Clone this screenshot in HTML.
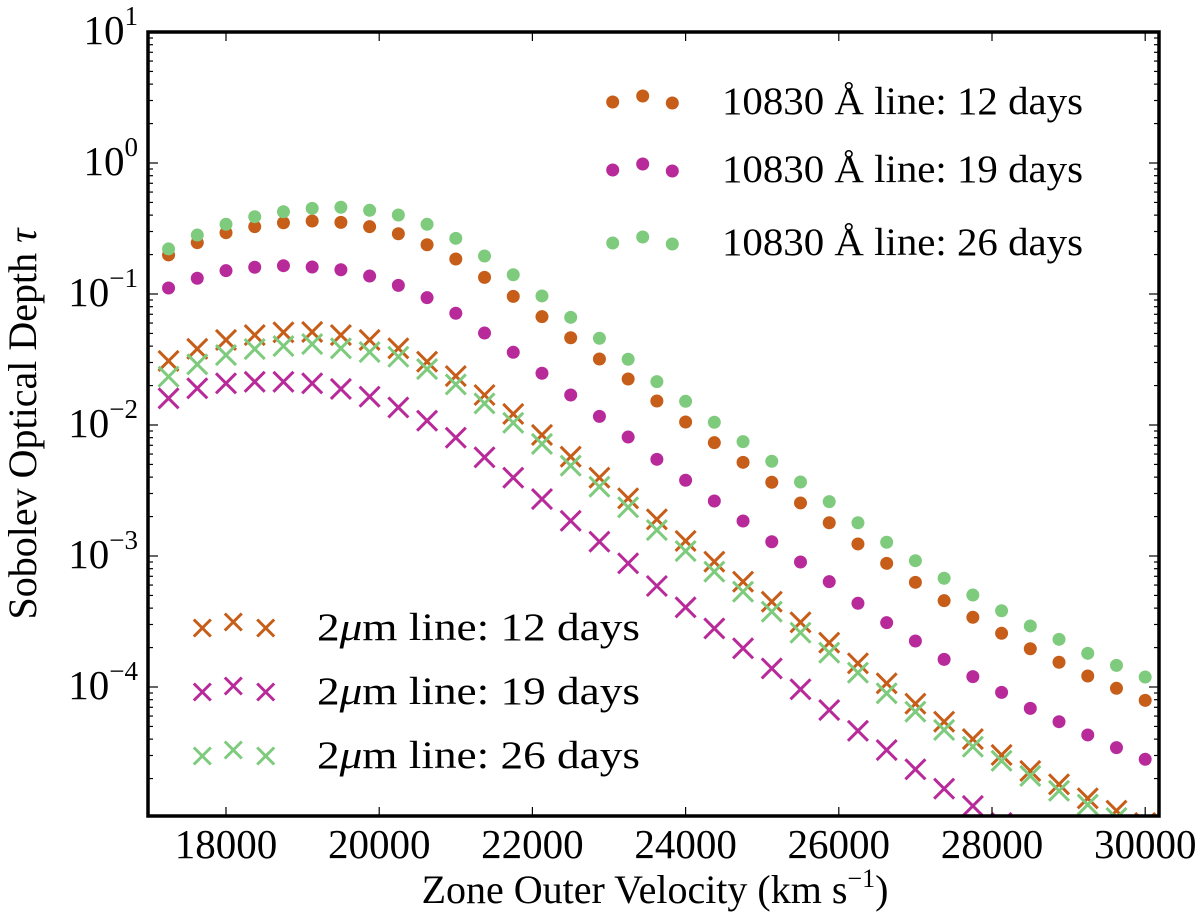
<!DOCTYPE html>
<html><head><meta charset="utf-8"><style>
html,body{margin:0;padding:0;background:#fff;}
svg{display:block;font-family:"Liberation Serif",serif;}
</style></head><body>
<svg id="chart" width="1200" height="918" viewBox="0 0 1200 918" xmlns="http://www.w3.org/2000/svg">
<defs><clipPath id="plotclip"><rect x="148" y="32" width="1011" height="784"/></clipPath></defs>
<g id="marks" clip-path="url(#plotclip)"></g>
<g id="axes"></g>
<g id="legend-top"></g>
<g id="legend-bottom"></g>
<text x="655" y="903" font-size="40" text-anchor="middle">Zone Outer Velocity (km s<tspan font-size="26" dy="-16">−1</tspan><tspan dy="16">)</tspan></text>
<text transform="translate(36,424) rotate(-90)" font-size="40" text-anchor="middle">Sobolev Optical Depth <tspan font-style="italic">τ</tspan></text>
</svg>
<script>
// data: log10 of Sobolev optical depth at each zone velocity
const velocityStart = 17250;
const velocityStep = 375;
const nZones = 35;
const xTicks = [18000, 20000, 22000, 24000, 26000, 28000, 30000];
const yTickExps = [1, 0, -1, -2, -3, -4];
const he12 = [-0.702,-0.608,-0.532,-0.486,-0.456,-0.443,-0.453,-0.486,-0.540,-0.624,-0.733,-0.873,-1.018,-1.173,-1.334,-1.496,-1.649,-1.817,-1.977,-2.135,-2.285,-2.437,-2.595,-2.746,-2.908,-3.056,-3.201,-3.341,-3.468,-3.590,-3.708,-3.811,-3.916,-4.010,-4.102];
const he19 = [-0.954,-0.880,-0.822,-0.796,-0.784,-0.794,-0.815,-0.863,-0.934,-1.028,-1.147,-1.298,-1.445,-1.605,-1.771,-1.934,-2.092,-2.262,-2.422,-2.580,-2.733,-2.891,-3.046,-3.196,-3.361,-3.509,-3.649,-3.789,-3.921,-4.041,-4.163,-4.265,-4.366,-4.463,-4.552];
const he26 = [-0.656,-0.550,-0.468,-0.410,-0.372,-0.346,-0.338,-0.361,-0.397,-0.468,-0.575,-0.710,-0.853,-1.015,-1.178,-1.338,-1.498,-1.669,-1.819,-1.979,-2.127,-2.277,-2.435,-2.585,-2.746,-2.895,-3.036,-3.170,-3.298,-3.418,-3.534,-3.636,-3.743,-3.835,-3.924];
const um12 = [-1.511,-1.418,-1.351,-1.313,-1.292,-1.290,-1.313,-1.351,-1.415,-1.517,-1.626,-1.771,-1.916,-2.076,-2.242,-2.402,-2.560,-2.720,-2.885,-3.043,-3.196,-3.349,-3.506,-3.662,-3.819,-3.972,-4.127,-4.265,-4.397,-4.519,-4.641,-4.743,-4.850,-4.944,-5.038];
const um19 = [-1.796,-1.720,-1.682,-1.670,-1.670,-1.682,-1.725,-1.784,-1.866,-1.967,-2.097,-2.247,-2.402,-2.565,-2.731,-2.891,-3.056,-3.229,-3.392,-3.553,-3.705,-3.858,-4.018,-4.176,-4.334,-4.481,-4.628,-4.776,-4.908,-5.038,-5.168,-5.298,-5.427,-5.557,-5.687];
const um26 = [-1.631,-1.537,-1.466,-1.420,-1.397,-1.382,-1.415,-1.443,-1.479,-1.573,-1.690,-1.835,-1.983,-2.145,-2.311,-2.471,-2.628,-2.802,-2.962,-3.120,-3.272,-3.425,-3.585,-3.738,-3.891,-4.048,-4.188,-4.328,-4.456,-4.563,-4.679,-4.792,-4.898,-5.000,-5.099];

const NS = "http://www.w3.org/2000/svg";
const L = 148, R = 1159, T = 32, B = 816;
function xs(v){ return 226 + (v - 18000) * 0.0766; }
function ys(e){ return 163 - 131 * e; }
function mk(tag, attrs, parent){ const e = document.createElementNS(NS, tag); for (const k in attrs) e.setAttribute(k, attrs[k]); parent.appendChild(e); return e; }
const C = {o:"#c65d19", m:"#b82a9a", g:"#7ecb7e"};
const marks = document.getElementById('marks');
function dot(x,y,c,p){ const e = mk('circle',{cx:x,cy:y,r:6.5,fill:c},p); return e; }
function cross(x,y,c,p,s){ const g = mk('g',{},p); mk('path',{d:`M${x-s} ${y-s}L${x+s} ${y+s}M${x-s} ${y+s}L${x+s} ${y-s}`,stroke:c,'stroke-width':3,fill:'none'},g); return g; }
const series = [
 {d:um12,c:C.o,t:'x',n:'2um-12d'},{d:um19,c:C.m,t:'x',n:'2um-19d'},{d:um26,c:C.g,t:'x',n:'2um-26d'},
 {d:he12,c:C.o,t:'o',n:'10830-12d'},{d:he19,c:C.m,t:'o',n:'10830-19d'},{d:he26,c:C.g,t:'o',n:'10830-26d'}];
series.forEach(s => {
  const g = mk('g',{},marks);
  
  
  s.d.forEach((e,i) => {
    const x = xs(velocityStart + i*velocityStep), y = ys(e);
    const m = s.t==='o' ? dot(x,y,s.c,g) : cross(x,y,s.c,g,10);
    
    
  });
});
// axes
const ax = document.getElementById('axes');
mk('rect',{x:L,y:T,width:R-L,height:B-T,fill:'none',stroke:'#000','stroke-width':3.5},ax);
xTicks.forEach(v => {
  const x = xs(v);
  mk('line',{x1:x,y1:B,x2:x,y2:B-9,stroke:'#000','stroke-width':1.2},ax);
  mk('line',{x1:x,y1:T,x2:x,y2:T+9,stroke:'#000','stroke-width':1.2},ax);
  const t = mk('text',{x:x,y:858,'font-size':41,'text-anchor':'middle'},ax);
  t.textContent = v;
  
  
});
for (let d = -5; d <= 0; d++) {
  for (let k = 1; k <= 9; k++) {
    const y = ys(d + Math.log10(k));
    if (y < T || y > B) continue;
    const len = k===1 ? 10 : 5;
    mk('line',{x1:L,y1:y,x2:L+len,y2:y,stroke:'#000','stroke-width':1.2},ax);
    mk('line',{x1:R,y1:y,x2:R-len,y2:y,stroke:'#000','stroke-width':1.2},ax);
  }
}
yTickExps.forEach(e => {
  const y = ys(e);
  const t = mk('text',{x:138,y:y+12,'font-size':41,'text-anchor':'end'},ax);
  
  
  const a = mk('tspan',{},t); a.textContent = '10';
  const b = mk('tspan',{dy:-19,'font-size':27},t); b.textContent = e < 0 ? '−' + (-e) : String(e);
});
// legends
const lt = document.getElementById('legend-top');
[[C.o,'12',102],[C.m,'19',170],[C.g,'26',243]].forEach(r => {
  const g = mk('g',{},lt);
  
  
  dot(612.7,r[2],r[0],g); dot(642.7,r[2]-6,r[0],g); dot(672.3,r[2]+1,r[0],g);
  const t = mk('text',{x:722,y:r[2]+12,'font-size':39,textLength:361,lengthAdjust:'spacingAndGlyphs'},g);
  t.textContent = '10830 Å line: ' + r[1] + ' days';
});
const lb = document.getElementById('legend-bottom');
[[C.o,'12',628],[C.m,'19',692],[C.g,'26',756]].forEach(r => {
  const g = mk('g',{},lb);
  
  
  cross(202.3,r[2],r[0],g,8.5); cross(233.3,r[2]-6,r[0],g,8.5); cross(265.7,r[2],r[0],g,8.5);
  const t = mk('text',{x:317,y:r[2]+12,'font-size':39,textLength:323,lengthAdjust:'spacingAndGlyphs'},g);
  const a = mk('tspan',{},t); a.textContent = '2';
  const b = mk('tspan',{'font-style':'italic'},t); b.textContent = 'μ';
  const c = mk('tspan',{},t); c.textContent = 'm line: ' + r[1] + ' days';
});
</script>
</body></html>
